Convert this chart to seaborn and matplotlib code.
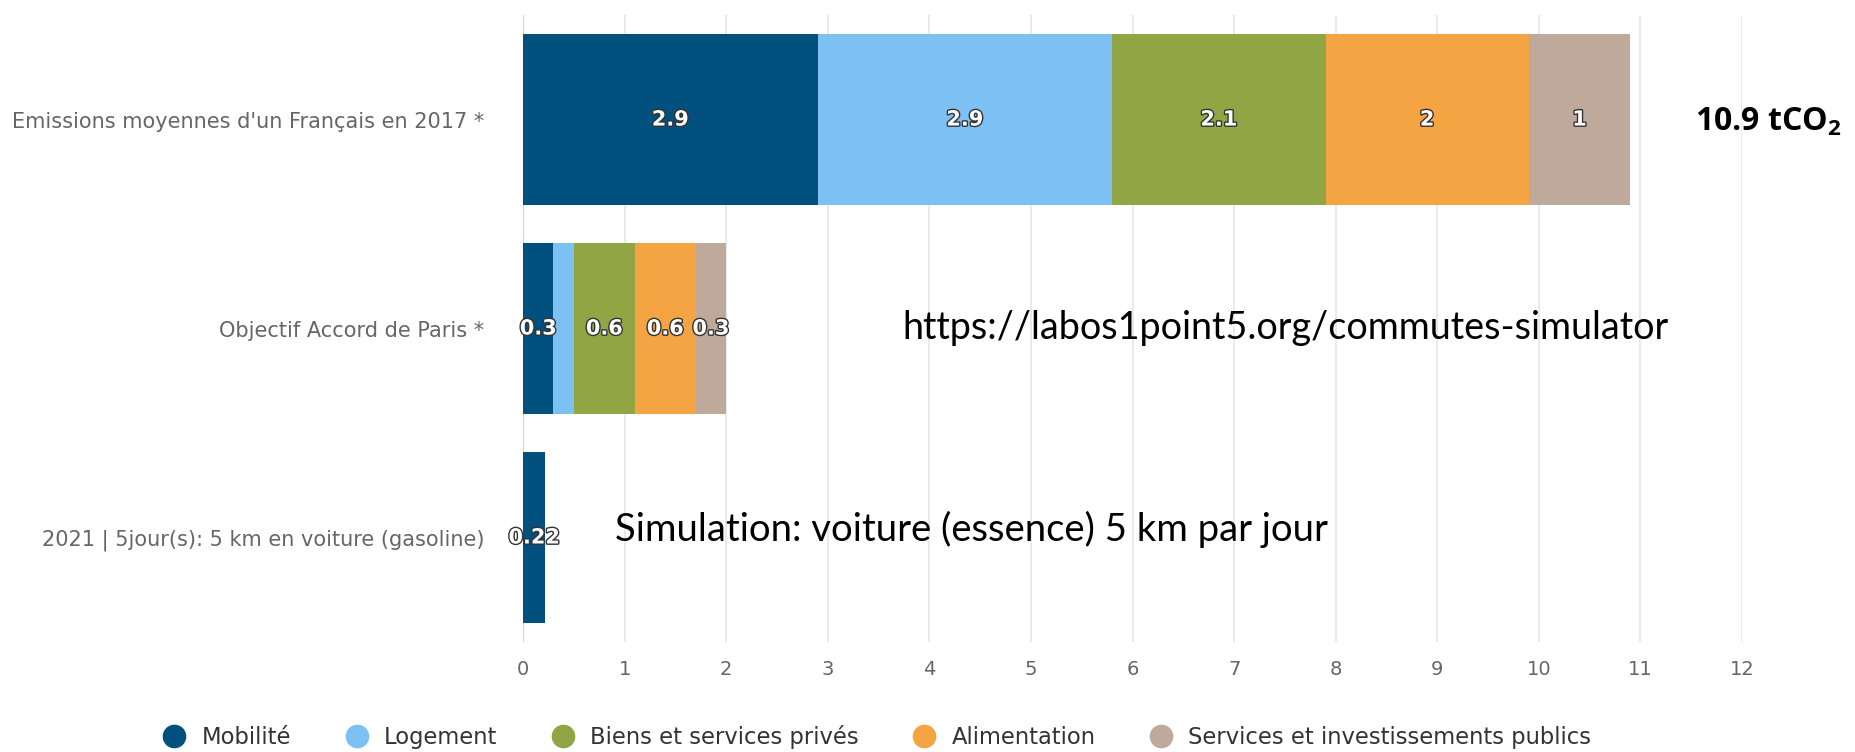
import matplotlib
matplotlib.use("Agg")
import matplotlib.pyplot as plt
import matplotlib.patheffects as pe
from matplotlib.lines import Line2D
import numpy as np
import seaborn as sns

# données (tCO2 / an)
categories = ["Emissions moyennes d'un Français en 2017 *",
              "Objectif Accord de Paris *",
              "2021 | 5jour(s): 5 km en voiture (gasoline)"]
series = ["Mobilité", "Logement", "Biens et services privés",
          "Alimentation", "Services et investissements publics"]
mobilite = [2.9, 0.3, 0.22]
logement = [2.9, 0.2, 0]
biens = [2.1, 0.6, 0]
alimentation = [2, 0.6, 0]
services = [1, 0.3, 0]
colors = ["#01507E", "#7DC1F4", "#92A545", "#F4A443", "#BEA99A"]
xticks = list(range(0, 13))

values = np.array([mobilite, logement, biens, alimentation, services])
cum = values.cumsum(axis=0)
totals = cum[-1]

sns.set_theme(style="white")
plt.rcParams['font.family'] = ['DejaVu Sans']
plt.rcParams['mathtext.fontset'] = 'custom'
plt.rcParams['mathtext.bf'] = 'Open Sans:bold'
plt.rcParams['mathtext.rm'] = 'Open Sans:bold'

fig = plt.figure(figsize=(18.56, 7.52), dpi=100)
ax = fig.add_axes([0.2818, 0.1463, 0.9386 - 0.2818, 0.98 - 0.1463])

# barres empilées : on dessine les cumuls du plus long au plus court
for i in range(len(series) - 1, -1, -1):
    sns.barplot(x=cum[i], y=categories, color=colors[i], orient="h",
                width=0.82, saturation=1, ax=ax, zorder=2,
                edgecolor="none", linewidth=0)

# étiquettes de valeurs
for i in range(len(series)):
    for j in range(len(categories)):
        v = values[i, j]
        if v == 0:
            continue
        if v < 0.25 and totals[j] > v:
            continue  # trop petit, masqué comme dans l'original
        xc = cum[i, j] - v / 2
        ax.text(xc, j, f"{v:g}", ha="center", va="center", color="white",
                fontsize=15, fontweight="bold", zorder=5,
                path_effects=[pe.withStroke(linewidth=2, foreground="#333333")])

ax.set_xlim(0, 12)
ax.set_xticks(xticks)
ax.set_xticklabels([str(t) for t in xticks])
ax.xaxis.grid(True, color="#e6e6e6", linewidth=1.2, zorder=0)
ax.set_axisbelow(True)
ax.axvline(0, color="#ccd6eb", linewidth=1.5, zorder=1)
for s in ax.spines.values():
    s.set_visible(False)
ax.tick_params(axis="x", length=0, pad=13, labelsize=14, labelcolor="#666666")
ax.tick_params(axis="y", length=0, pad=28, labelsize=15.0, labelcolor="#666666")
ax.set_xlabel("")
ax.set_ylabel("")

# annotations
fig.text(1695 / 1856, 1 - 122 / 752, r"10.9 tCO$_\mathbf{2}$", fontsize=23.1,
         fontweight="bold", family="Open Sans", va="center", ha="left", color="black")
fig.text(902 / 1856, 1 - 328 / 752, "https://labos1point5.org/commutes-simulator",
         fontsize=27.2, family="Lato", va="center", ha="left", color="black")
fig.text(615 / 1856, 1 - 529 / 752, "Simulation: voiture (essence) 5 km par jour",
         fontsize=27.5, family="Lato", va="center", ha="left", color="black")

# légende
handles = [Line2D([0], [0], marker="o", linestyle="", markersize=16,
                  markerfacecolor=c, markeredgecolor=c) for c in colors]
fig.legend(handles, series, loc="center", bbox_to_anchor=(0.472, 0.02), ncol=5,
           frameon=False, fontsize=16.3, handlelength=1.2, handletextpad=0.6,
           columnspacing=2.3, labelcolor="#333333")

fig.savefig("out.png", dpi=100)
